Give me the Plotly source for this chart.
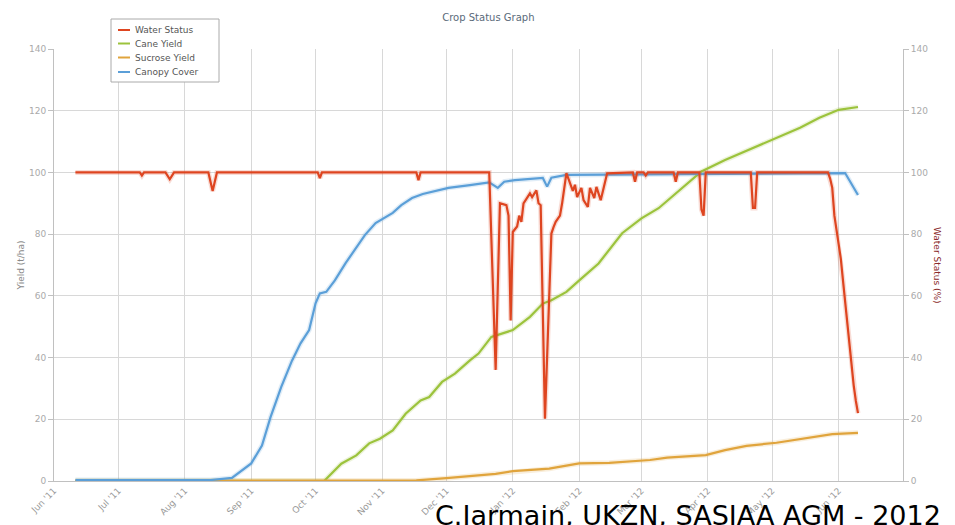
import plotly.graph_objects as go

# ---------------- data ----------------
canopy_dates = ["2011-06-11", "2011-08-13", "2011-08-23", "2011-08-27", "2011-09-01", "2011-09-06",
                "2011-09-10", "2011-09-15", "2011-09-20", "2011-09-24", "2011-09-28", "2011-10-01",
                "2011-10-03", "2011-10-06", "2011-10-10", "2011-10-15", "2011-10-20", "2011-10-24",
                "2011-10-29", "2011-11-01", "2011-11-06", "2011-11-10", "2011-11-15", "2011-11-20",
                "2011-11-26", "2011-12-02", "2011-12-12", "2011-12-21", "2011-12-25", "2011-12-28",
                "2012-01-02", "2012-01-15", "2012-01-17", "2012-01-19", "2012-01-26", "2012-02-29",
                "2012-06-04", "2012-06-10"]
canopy_vals = [0.3, 0.3, 1.0, 3.0, 5.7, 11.5,
               20.7, 30.5, 39.0, 44.6, 48.9, 57.6,
               60.8, 61.3, 65.0, 70.6, 75.5, 79.7,
               83.6, 84.9, 86.9, 89.4, 91.7, 93.0,
               94.1, 95.0, 95.9, 96.8, 95.0, 97.0,
               97.5, 98.2, 95.4, 98.3, 99.2, 99.4,
               99.8, 92.7]

cane_dates = ["2011-06-11", "2011-10-05", "2011-10-13", "2011-10-20", "2011-10-26", "2011-10-31",
              "2011-11-06", "2011-11-12", "2011-11-19", "2011-11-23", "2011-11-29", "2011-12-05",
              "2011-12-12", "2011-12-16", "2011-12-22", "2012-01-01", "2012-01-09", "2012-01-15",
              "2012-01-19", "2012-01-26", "2012-02-01", "2012-02-10", "2012-02-21", "2012-03-01",
              "2012-03-09", "2012-03-19", "2012-03-29", "2012-04-09", "2012-04-20", "2012-04-30",
              "2012-05-14", "2012-05-23", "2012-06-01", "2012-06-10"]
cane_vals = [0.0, 0.0, 5.6, 8.3, 12.2, 13.7,
             16.4, 21.8, 26.1, 27.2, 32.1, 34.8,
             39.1, 41.3, 46.7, 48.9, 53.2, 57.5,
             58.6, 61.3, 65.0, 70.5, 80.3, 85.1,
             88.4, 94.3, 100.3, 104.0, 107.3, 110.5,
             114.5, 117.7, 120.3, 121.2]

sucrose_dates = ["2011-06-11", "2011-11-17", "2011-12-01", "2011-12-15", "2011-12-24", "2012-01-01",
                 "2012-01-10", "2012-01-18", "2012-01-26", "2012-02-01", "2012-02-15", "2012-02-26",
                 "2012-03-05", "2012-03-13", "2012-03-31", "2012-04-09", "2012-04-19", "2012-05-03",
                 "2012-05-18", "2012-05-29", "2012-06-10"]
sucrose_vals = [0.1, 0.2, 0.9, 1.8, 2.3, 3.2,
                3.6, 4.0, 5.0, 5.7, 5.9, 6.3,
                6.8, 7.6, 8.4, 10.0, 11.4, 12.4,
                14.1, 15.2, 15.6]

water_dates = ["2011-06-11", "2011-07-11", "2011-07-12", "2011-07-13", "2011-07-23", "2011-07-25",
               "2011-07-27", "2011-08-12", "2011-08-14", "2011-08-16", "2011-10-02", "2011-10-03",
               "2011-10-04", "2011-11-17", "2011-11-18", "2011-11-19", "2011-12-21", "2011-12-24",
               "2011-12-26", "2011-12-29", "2011-12-30", "2011-12-31", "2012-01-01", "2012-01-03",
               "2012-01-04", "2012-01-05", "2012-01-06", "2012-01-09", "2012-01-10", "2012-01-12",
               "2012-01-13", "2012-01-14", "2012-01-16", "2012-01-19", "2012-01-20", "2012-01-21",
               "2012-01-23", "2012-01-24", "2012-01-26", "2012-01-29", "2012-01-30", "2012-01-31",
               "2012-02-02", "2012-02-03", "2012-02-05", "2012-02-06", "2012-02-08", "2012-02-09",
               "2012-02-11", "2012-02-14", "2012-02-26", "2012-02-27", "2012-02-28", "2012-03-02",
               "2012-03-03", "2012-03-04", "2012-03-16", "2012-03-17", "2012-03-18", "2012-03-28",
               "2012-03-29", "2012-03-30", "2012-03-31", "2012-04-21", "2012-04-22", "2012-04-23",
               "2012-04-24", "2012-05-27", "2012-05-28", "2012-05-29", "2012-05-30", "2012-05-31",
               "2012-06-01", "2012-06-02", "2012-06-03", "2012-06-04", "2012-06-05", "2012-06-06",
               "2012-06-07", "2012-06-08", "2012-06-09", "2012-06-10"]
water_vals = [100, 100, 99, 100, 100, 97.8,
              100, 100, 94, 100, 100, 98.2,
              100, 100, 97.5, 100, 100, 36,
              90, 89.4, 86, 52, 80.7, 82.5,
              86, 84, 90, 93.2, 92, 94.2,
              90, 89.4, 20.2, 80.2, 82.3, 84,
              86, 90, 99.8, 94, 96, 92,
              95, 91, 88.8, 95, 91.7, 95.3,
              91, 99.7, 100, 97, 100, 100,
              99, 100, 100, 97, 100, 100,
              88, 86, 100, 100, 88.5, 88.5,
              100, 100, 98, 95, 86, 81,
              77, 72, 65, 58, 51, 44.5,
              37, 31, 26, 22]

y_ticks = [0, 20, 40, 60, 80, 100, 120, 140]
month_ticks = ["2011-06-01", "2011-07-01", "2011-08-01", "2011-09-01", "2011-10-01", "2011-11-01",
               "2011-12-01", "2012-01-01", "2012-02-01", "2012-03-01", "2012-04-01", "2012-05-01",
               "2012-06-01"]
month_labels = ["Jun '11", "Jul '11", "Aug '11", "Sep '11", "Oct '11", "Nov '11", "Dec '11",
                "Jan '12", "Feb '12", "Mar '12", "Apr '12", "May '12", "Jun '12"]

# ---------------- styles ----------------
C_WATER = "#de4520"
C_CANE = "#9cc33c"
C_SUCR = "#e0a43c"
C_CANOPY = "#5b9fd8"
FONT = "DejaVu Sans"

# layout geometry (page is offset by an 8px body margin)
ML, MR, MT, MB = 46, 60, 41, 52
W, H = 955, 525
PW = W - ML - MR
PH = H - MT - MB


def px_to_paper(px, py):
    """page pixel -> paper coordinates (accounts for the 8px body offset)"""
    fx, fy = px - 8, py - 8
    return (fx - ML) / PW, (H - MB - fy) / PH


fig = go.Figure()

series = [
    ("Water Status", water_dates, water_vals, C_WATER, "y2"),
    ("Cane Yield", cane_dates, cane_vals, C_CANE, "y"),
    ("Sucrose Yield", sucrose_dates, sucrose_vals, C_SUCR, "y"),
    ("Canopy Cover", canopy_dates, canopy_vals, C_CANOPY, "y"),
]

# soft halo under each line
for name, xs, ys, col, ax in series:
    fig.add_trace(go.Scatter(x=xs, y=ys, mode="lines", yaxis=ax, showlegend=False,
                             hoverinfo="skip", line=dict(color=col, width=5), opacity=0.18))
for name, xs, ys, col, ax in series:
    fig.add_trace(go.Scatter(x=xs, y=ys, mode="lines", name=name, yaxis=ax, showlegend=False,
                             line=dict(color=col, width=2.2)))

fig.update_layout(
    width=W, height=H,
    margin=dict(l=ML, r=MR, t=MT, b=MB, autoexpand=False),
    paper_bgcolor="white", plot_bgcolor="white",
    font=dict(family=FONT, color="#999999", size=9),
    title=dict(text="Crop Status Graph", x=0.503, xanchor="center",
               yref="container", y=1 - 9 / H, yanchor="middle",
               font=dict(family=FONT, size=10, color="#5a6a7a")),
    showlegend=False,
    xaxis=dict(type="date", range=["2011-06-01", "2012-07-01"], automargin=False,
               tickmode="array", tickvals=month_ticks, ticktext=month_labels,
               tickangle=-45, showgrid=True, gridcolor="#d8d8d8", gridwidth=1,
               showline=True, linecolor="#c0c0c0", linewidth=1,
               ticks="", tickfont=dict(size=9, color="#999999"), zeroline=False),
    yaxis=dict(range=[0, 140], tickmode="array", tickvals=y_ticks, automargin=False,
               showgrid=True, gridcolor="#d8d8d8", gridwidth=1,
               showline=True, linecolor="#c0c0c0", linewidth=1,
               ticks="outside", ticklen=5, tickcolor="#c0c0c0",
               tickfont=dict(size=9, color="#aaaaaa"), zeroline=False,
               title=dict(text="Yield (t/ha)", font=dict(size=9, color="#888888"), standoff=2)),
    yaxis2=dict(range=[0, 140], tickmode="array", tickvals=y_ticks, overlaying="y", side="right",
                automargin=False, showgrid=False, showline=True, linecolor="#c0c0c0", linewidth=1,
                ticks="outside", ticklen=5, tickcolor="#c0c0c0",
                tickfont=dict(size=9, color="#aaaaaa"), zeroline=False),
)

# custom compact legend box
x0, y0 = px_to_paper(111, 19)
x1, y1 = px_to_paper(219, 82)
fig.add_shape(type="rect", xref="paper", yref="paper", x0=x0, y0=y1, x1=x1, y1=y0,
              line=dict(color="#aaaaaa", width=1), fillcolor="white", layer="above")
legend_rows = [30, 43.5, 57.5, 72]
for (name, xs, ys, col, ax), ry in zip(series, legend_rows):
    lx0, ly = px_to_paper(118, ry)
    lx1, _ = px_to_paper(130, ry)
    fig.add_shape(type="line", xref="paper", yref="paper", x0=lx0, x1=lx1, y0=ly, y1=ly,
                  line=dict(color=col, width=2), layer="above")
    tx, _ = px_to_paper(133, ry)
    fig.add_annotation(text=name, xref="paper", yref="paper", x=tx, y=ly,
                       xanchor="left", yanchor="middle", showarrow=False,
                       font=dict(family=FONT, size=9, color="#555555"))

fig.add_annotation(text="Water Status (%)", xref="paper", yref="paper", x=1.0, y=0.5,
                   xshift=41, textangle=90, showarrow=False,
                   font=dict(family=FONT, size=9, color="#8a2a2a"))
fx, _ = px_to_paper(433, 0)
fig.add_annotation(text="C.Jarmain, UKZN, SASIAA AGM - 2012", xref="paper", yref="paper",
                   x=fx, y=0, xanchor="left", yanchor="top", yshift=-17,
                   showarrow=False, font=dict(family=FONT, size=27, color="#000000"))

fig.write_html("out.html")
